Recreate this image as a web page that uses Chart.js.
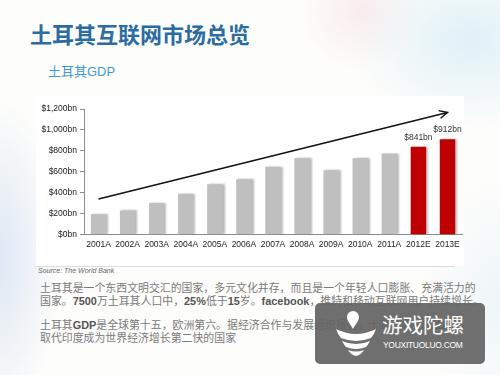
<!DOCTYPE html>
<html>
<head>
<meta charset="utf-8">
<script src="https://cdn.jsdelivr.net/npm/chart.js@4/dist/chart.umd.min.js"></script>
<style>
  html, body { margin:0; padding:0; }
  body { width:500px; height:375px; position:relative; overflow:hidden;
    background:
      radial-gradient(ellipse 120px 90px at 470px 40px, rgba(200,230,245,0.55), rgba(255,255,255,0) 100%),
      radial-gradient(ellipse 60px 60px at 360px 10px, rgba(245,215,220,0.45), rgba(255,255,255,0) 100%),
      radial-gradient(ellipse 60px 160px at 0px 260px, rgba(205,220,240,0.65), rgba(255,255,255,0) 100%),
      radial-gradient(ellipse 80px 120px at 500px 300px, rgba(215,235,245,0.4), rgba(255,255,255,0) 100%),
      #fdfdfb;
    font-family: "Liberation Sans", "Noto Sans CJK SC", sans-serif; }
  #title { position:absolute; left:30px; top:19px; font-size:22px; font-weight:bold; color:#2b6ca3;
    font-family:"Noto Sans CJK SC", sans-serif; white-space:nowrap; line-height:28px; }
  #sub { position:absolute; left:48px; top:63px; font-size:13px; color:#3d9ad1; white-space:nowrap; line-height:18px;
    font-family:"Liberation Sans","Noto Sans CJK SC", sans-serif; }
  #panel { position:absolute; left:36px; top:96px; width:428px; height:170px; background:#ffffff; }
  #wrap { position:absolute; left:30px; top:100px; width:440px; height:155px; }
  #rule { position:absolute; left:35px; top:266px; width:420px; height:1px; background:#dcdcdc; }
  #src { position:absolute; left:38px; top:267px; font-size:7px; font-style:italic; color:#666; white-space:nowrap; }
  .p { position:absolute; left:40px; font-size:10.9px; line-height:12.5px; color:#7a7a7a; white-space:nowrap;
    font-family:"Liberation Sans","Noto Sans CJK SC", sans-serif; }
  .p b { color:#555; font-weight:bold; }
  #wm { position:absolute; left:315px; top:303px; width:170px; height:61px; border-radius:5px; background:rgba(100,100,100,0.93); }
  #wm1 { position:absolute; left:67px; top:9px; font-size:20.5px; color:#fff; font-family:"Noto Sans CJK SC", sans-serif; line-height:24px; white-space:nowrap; }
  #wm2 { position:absolute; left:68px; top:37px; font-size:8.5px; color:#fff; white-space:nowrap; letter-spacing:-0.3px; }
  #wmicon { position:absolute; left:18px; top:6px; }
</style>
</head>
<body>
<div id="title">土耳其互联网市场总览</div>
<div id="sub">土耳其GDP</div>
<div id="panel"></div>
<div id="wrap"><canvas id="c"></canvas></div>
<div id="rule"></div>
<div id="src">Source: The World Bank</div>
<div class="p" style="top:282px">土耳其是一个东西文明交汇的国家，多元文化并存，而且是一个年轻人口膨胀、充满活力的<br>国家。<b>7500</b>万土耳其人口中，<b>25%</b>低于<b>15</b>岁。<b>facebook</b>，推特和移动互联网用户持续增长。</div>
<div class="p" style="top:319px">土耳其<b>GDP</b>是全球第十五，欧洲第六。据经济合作与发展组织报告，土耳其将于<b>2017</b>年<br>取代印度成为世界经济增长第二快的国家</div>
<div id="wm">
  <svg id="wmicon" width="46" height="52" viewBox="0 0 46 52">
    <path d="M20 2 a6 6 0 0 1 6 6 c0 4 -4 8 -6 12 c-2 -4 -6 -8 -6 -12 a6 6 0 0 1 6 -6z" fill="#fff"/>
    <path d="M3 20 q20 10 40 0 q-2 6 -5 9 q-15 6 -30 0 q-3 -3 -5 -9z" fill="#fff"/>
    <path d="M9 32 q14 6 28 0 q-2 4 -4 6 q-10 4 -20 0 q-2 -2 -4 -6z" fill="#fff"/>
    <path d="M15 41 q8 3 16 0 q-3 5 -8 6 q-5 -1 -8 -6z" fill="#fff"/>
  </svg>
  <div id="wm1">游戏陀螺</div>
  <div id="wm2">YOUXITUOLUO.COM</div>
</div>
<script>
const categories = ["2001A","2002A","2003A","2004A","2005A","2006A","2007A","2008A","2009A","2010A","2011A","2012E","2013E"];
const gdpValues = [196, 232, 304, 392, 483, 530, 648, 730, 615, 731, 775, 841, 912];
const labelledIndexes = [11, 12];
const trendValues = [341, null, null, null, null, null, null, null, null, null, null, null, 1167];
const yTicks = [0, 200, 400, 600, 800, 1000, 1200];

const barColors = categories.map(c => c.endsWith("E") ? "#c00000" : "#bfbfbf");

const shadowPlugin = {
  id: "barShadow",
  beforeDatasetDraw(chart, args) {
    if (args.index !== 1) return;
    const ctx = chart.ctx;
    ctx.save();
    ctx.shadowColor = "rgba(0,0,0,0.28)";
    ctx.shadowOffsetX = 2;
    ctx.shadowOffsetY = 0;
    ctx.shadowBlur = 2;
  },
  afterDatasetDraw(chart, args) {
    if (args.index !== 1) return;
    chart.ctx.restore();
  }
};

const arrowPlugin = {
  id: "arrowHead",
  afterDatasetsDraw(chart) {
    const meta = chart.getDatasetMeta(0);
    const pts = meta.data.filter((p, i) => trendValues[i] !== null);
    const a = pts[0], b = pts[pts.length - 1];
    const ang = Math.atan2(b.y - a.y, b.x - a.x);
    const ctx = chart.ctx;
    ctx.save();
    ctx.strokeStyle = "#111";
    ctx.lineWidth = 1.5;
    const L = 9;
    ctx.beginPath();
    ctx.moveTo(b.x - L * Math.cos(ang - 0.45), b.y - L * Math.sin(ang - 0.45));
    ctx.lineTo(b.x, b.y);
    ctx.lineTo(b.x - L * Math.cos(ang + 0.45), b.y - L * Math.sin(ang + 0.45));
    ctx.stroke();
    const bmeta = chart.getDatasetMeta(1);
    ctx.fillStyle = "#333";
    ctx.font = "8.5px 'Liberation Sans', Arial, sans-serif";
    ctx.textAlign = "center";
    ctx.textBaseline = "bottom";
    labelledIndexes.forEach(i => {
      const el = bmeta.data[i];
      ctx.fillText("$" + gdpValues[i] + "bn", el.x, el.y - 5);
    });
    ctx.restore();
  }
};

new Chart(document.getElementById("c"), {
  data: {
    labels: categories,
    datasets: [
      { type: "line", data: trendValues, spanGaps: true, borderColor: "#111", borderWidth: 1.5,
        pointRadius: 0, fill: false, order: 0 },
      { type: "bar", data: gdpValues, backgroundColor: barColors, categoryPercentage: 1, barPercentage: 0.53, order: 1 }
    ]
  },
  options: {
    responsive: true,
    maintainAspectRatio: false,
    animation: false,
    layout: { padding: { top: 9, right: 8, left: 0, bottom: 0 } },
    plugins: { legend: { display: false }, tooltip: { enabled: false } },
    scales: {
      x: {
        grid: { display: false, drawTicks: false },
        border: { display: true, color: "#8c8c8c" },
        ticks: { color: "#222", font: { size: 8.5, family: "'Liberation Sans', Arial, sans-serif" }, padding: 5,
                 maxRotation: 0, autoSkip: false }
      },
      y: {
        min: 0, max: 1200,
        afterBuildTicks(axis) { axis.ticks = yTicks.map(v => ({ value: v })); },
        afterFit(axis) { axis.width = 54; },
        grid: { drawOnChartArea: false, drawTicks: true, tickLength: 4, color: "#8c8c8c" },
        border: { display: true, color: "#8c8c8c" },
        ticks: { color: "#222", font: { size: 8.5, family: "'Liberation Sans', Arial, sans-serif" }, padding: 3,
                 callback: v => "$" + v.toLocaleString("en-US") + "bn" }
      }
    }
  },
  plugins: [shadowPlugin, arrowPlugin]
});
</script>
</body>
</html>
